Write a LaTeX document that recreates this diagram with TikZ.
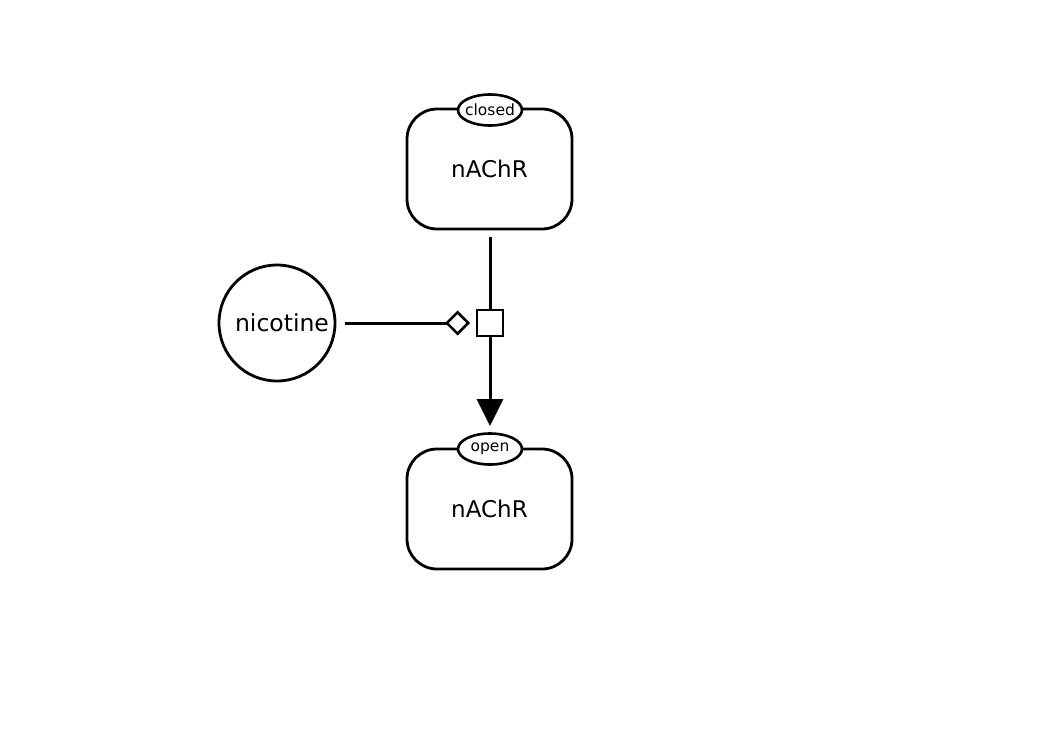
\documentclass[tikz,border=0pt]{standalone}
\usepackage{fontspec}
\setmainfont{DejaVu Sans}
\usetikzlibrary{arrows.meta,shapes.geometric}
\begin{document}
\begin{tikzpicture}[x=1pt,y=-1pt,line width=2.8pt,
  macro/.style={draw,rounded corners=30pt,minimum width=165pt,minimum height=120pt,inner sep=0pt,font=\fontsize{23}{27}\selectfont},
  statevar/.style={draw,ellipse,fill=white,minimum width=64pt,minimum height=31pt,inner sep=0pt,line width=2.6pt,font=\fontsize{15.5}{18}\selectfont},
  simple/.style={draw,circle,minimum size=116pt,inner sep=0pt,font=\fontsize{23.5}{27}\selectfont},
  proc/.style={draw,rectangle,minimum size=26pt,inner sep=0pt,fill=white},
  conn/.style={line width=3pt}]
\useasboundingbox (0,0) rectangle (1052,744);
\node[macro] (m1) at (489.5,169) {nAChR};
\node[statevar] (s1) at (490,110) {\makebox[30pt]{closed}};
\node[macro] (m2) at (489.5,509) {nAChR};
\node[statevar] (s2) at (490,449) {\makebox[30pt]{open}};
\node[simple] (nic) at (277,323) {\makebox[30pt]{\hspace*{10pt}nicotine}};
\node[proc] (p) at (490,323) {};
\coordinate (pin) at (490,237);
\coordinate (mod) at (345,323);
\coordinate (tipend) at (490,426);
\coordinate (dtip) at (470,323);
\draw[conn] (pin) -- (p.north);
\draw[conn,-{Triangle[width=26pt,length=27pt]}] (p.south) -- (tipend);
\draw[conn,-{Diamond[open,width=25pt,length=25pt,line width=2.6pt]}] (mod) -- (dtip);
\end{tikzpicture}
\end{document}
